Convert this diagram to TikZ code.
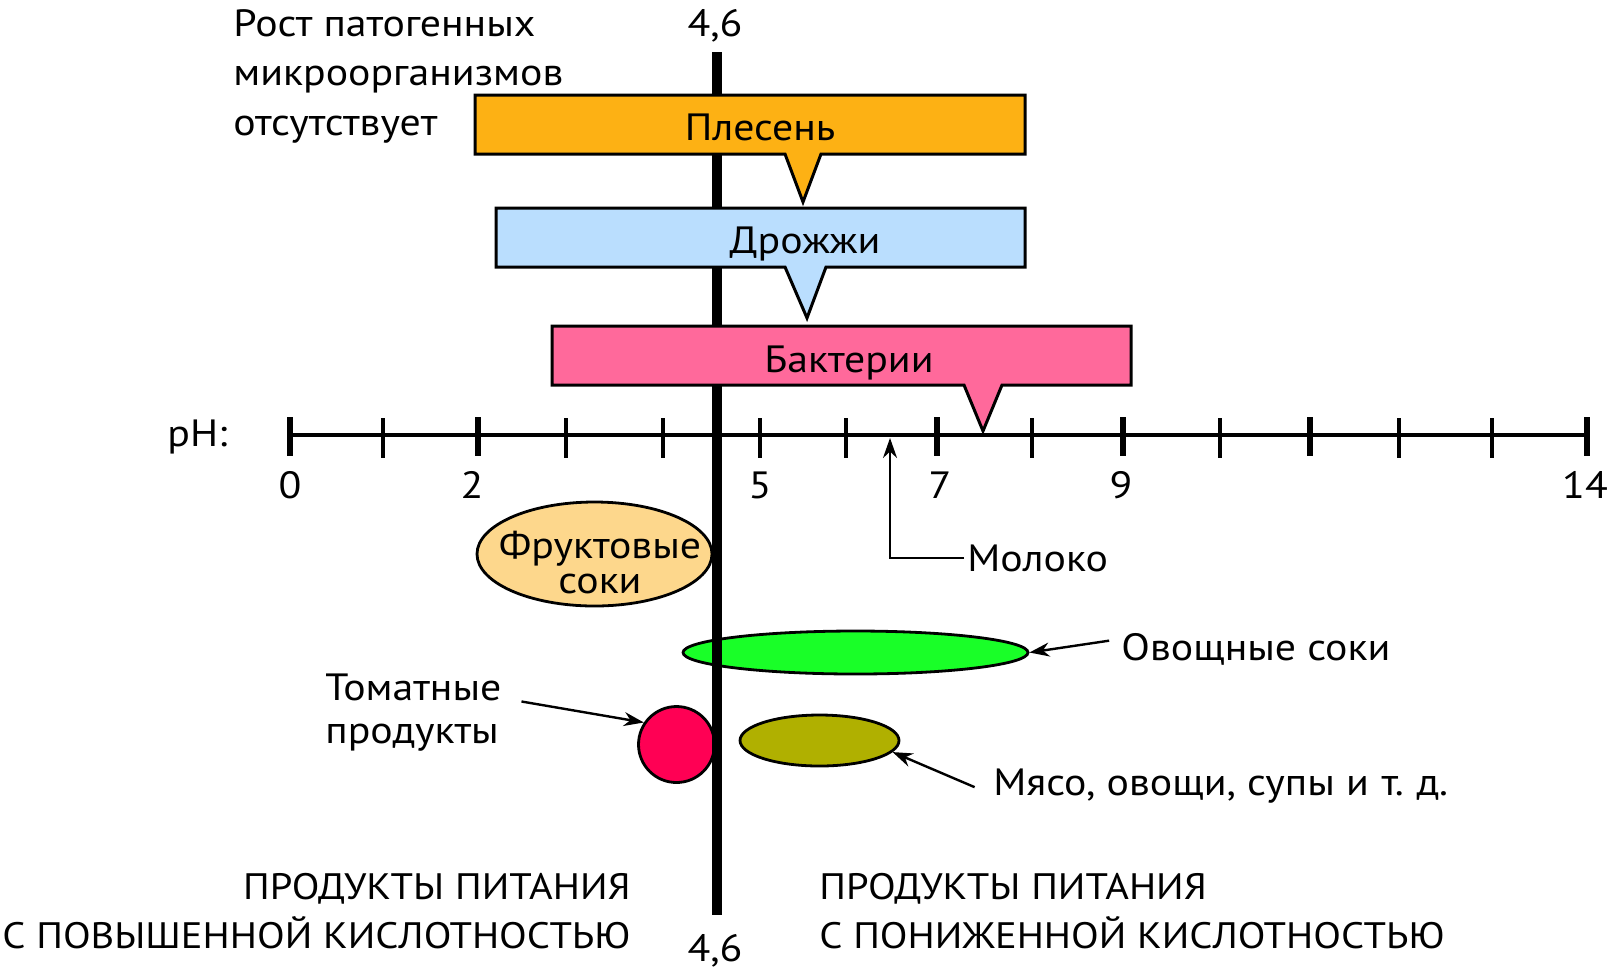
\documentclass[tikz,border=0pt]{standalone}
\usepackage{fontspec}
\setmainfont[FakeStretch=1.1]{PT Sans}
\usetikzlibrary{shapes.geometric, arrows.meta}
\definecolor{moldcol}{RGB}{253,177,20}
\definecolor{yeastcol}{RGB}{186,222,254}
\definecolor{bactcol}{RGB}{255,105,155}
\definecolor{fruitcol}{RGB}{253,215,140}
\definecolor{vegcol}{RGB}{25,255,40}
\definecolor{tomatocol}{RGB}{255,0,84}
\definecolor{meatcol}{RGB}{176,176,0}
\begin{document}
\begin{tikzpicture}[x=0.5pt, y=-0.5pt,
    txt/.style = {font=\fontsize{19}{24.75}\selectfont, inner sep=0pt},
    caps/.style = {txt, font=\fontsize{18.4}{24.5}\selectfont},
    box/.style = {draw, line width=1.5pt, line join=miter},
    food/.style = {draw, ellipse, line width=1.4pt, inner sep=0pt},
    pointer/.style = {-{Stealth[length=10pt, width=7pt]}, line width=1.2pt},
    major/.style = {line width=3pt},
    minor/.style = {line width=1.75pt}]
    \useasboundingbox (0,0) rectangle (1609,976);
    % food groups
    \node[food, fill=fruitcol, minimum width=117.5pt, minimum height=52pt] (fruit) at (594.5,554) {};
    \node[food, fill=vegcol, minimum width=172.5pt, minimum height=21.5pt] (veg) at (855.5,652.5) {};
    \node[food, circle, fill=tomatocol, minimum size=38pt] (tomato) at (676.5,744.5) {};
    \node[food, fill=meatcol, minimum width=79.5pt, minimum height=25.5pt] (meat) at (819.5,740.5) {};
    \node[txt, align=center, font=\fontsize{19}{17.5}\selectfont, anchor=base] (fruittxt) at (600,593) {Фруктовые\\соки};
    % pH 4,6 line
    \draw[line width=5pt] (717,52) -- (717,915);
    \node[txt, anchor=base] (top46) at (715,36) {4,6};
    \node[txt, anchor=base] (bot46) at (715,961) {4,6};
    % ranges
    \draw[box, fill=moldcol] (475,95) -- (1025,95) -- (1025,154) -- (821,154) -- (803,202) -- (785,154) -- (475,154) -- cycle;
    \draw[box, fill=yeastcol] (496,208) -- (1025,208) -- (1025,267) -- (826,267) -- (807,318) -- (785,267) -- (496,267) -- cycle;
    \draw[box, fill=bactcol] (552,326) -- (1131,326) -- (1131,385) -- (1002,385) -- (983,431) -- (964,385) -- (552,385) -- cycle;
    \node[txt, anchor=base] (moldtxt) at (760,140) {Плесень};
    \node[txt, anchor=base] (yeasttxt) at (805,253) {Дрожжи};
    \node[txt, anchor=base] (bacttxt) at (849,372) {Бактерии};
    % pH axis
    \draw[line width=2pt] (290,435) -- (1587,435);
    \foreach \x in {290,478,937,1123,1310,1587}
        \draw[major] (\x,417) -- (\x,456);
    \foreach \x in {383,566,663,760,846,1032,1220,1399,1492}
        \draw[minor] (\x,418) -- (\x,458);
    \foreach \x/\v in {290/0, 472/2, 760/5, 940/7, 1121/9, 1585/14}
        \node[txt, anchor=base] (ph\v) at (\x,498) {\v};
    \node[txt, anchor=base west] (phlbl) at (167,446) {pH:};
    % labels
    \node[txt, align=left, anchor=base west] (nogrowth) at (233,135) {Рост патогенных\\микроорганизмов\\отсутствует};
    \node[txt, anchor=base west] (milklbl) at (967,571) {Молоко};
    \coordinate (milktip) at (890,438);
    \node[txt, anchor=base west] (veglbl) at (1121,660) {Овощные соки};
    \node[txt, align=left, font=\fontsize{19}{21.5}\selectfont, anchor=base west] (tomatolbl) at (325,743) {Томатные\\продукты};
    \node[txt, anchor=base west] (meatlbl) at (993,795) {Мясо, овощи, супы и\,\,т.\,\,д.};
    \node[caps, align=right, anchor=base east] (acidlbl) at (631,948) {ПРОДУКТЫ ПИТАНИЯ\\С ПОВЫШЕННОЙ КИСЛОТНОСТЬЮ};
    \node[caps, align=left, anchor=base west] (lowlbl) at (819,948) {ПРОДУКТЫ ПИТАНИЯ\\С ПОНИЖЕННОЙ КИСЛОТНОСТЬЮ};
    % arrows
    \draw[pointer, shorten <=1.5pt] (milklbl.west) -| (milktip);
    \draw[pointer, shorten <=6pt] ([yshift=5pt]veglbl.west) -- (veg.east);
    \draw[pointer, shorten <=10pt] (tomatolbl.9) -- (tomato.146);
    \draw[pointer, shorten <=10pt] (meatlbl.base west) -- (meat.-9);
\end{tikzpicture}
\end{document}
